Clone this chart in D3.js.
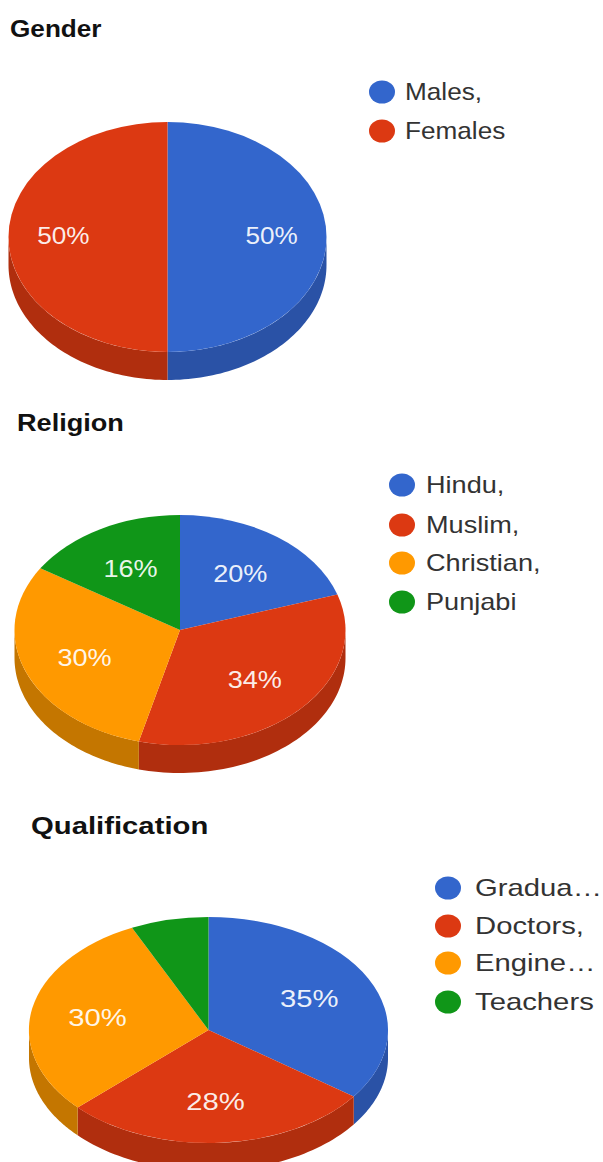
<!DOCTYPE html>
<html>
<head>
<meta charset="utf-8">
<script src="https://cdn.jsdelivr.net/npm/d3@7"></script>
<style>
  html, body { margin: 0; padding: 0; background: #fff; overflow: hidden; }
  svg { display: block; }
  text { font-family: "Liberation Sans", Arial, sans-serif; }
</style>
</head>
<body>
<svg id="chart" width="603" height="1162"></svg>
<script>
// Survey breakdowns
const genderLabels = ["Males,", "Females"];
const genderValues = [50, 50];

const religionLabels = ["Hindu,", "Muslim,", "Christian,", "Punjabi"];
const religionValues = [20, 34, 30, 16];

const qualificationLabels = ["Gradua…", "Doctors,", "Engine…", "Teachers"];
const qualificationValues = [35, 28, 30, 7];

const sliceColors = ["#3366cc", "#dc3912", "#ff9900", "#109618"];
const wallColors = ["#2a52a6", "#b02e0e", "#c47600", "#0c7212"];

// Layout of each panel, kept apart from the values
const panels = [
  { title: "Gender", labels: genderLabels, values: genderValues,
    titleX: 10, titleY: 37, cx: 167.5, cy: 237, rx: 159, ry: 115,
    stretch: 1.09, labelRadius: 0.655, labelDrop: 7,
    legendDotX: 382, legendTextX: 405, legendY: [92, 131] },
  { title: "Religion", labels: religionLabels, values: religionValues,
    titleX: 17, titleY: 431, cx: 180, cy: 630, rx: 165.5, ry: 115,
    stretch: 1.13, labelRadius: 0.62, labelDrop: 9.5,
    legendDotX: 402, legendTextX: 426, legendY: [485, 525, 563, 602] },
  { title: "Qualification", labels: qualificationLabels, values: qualificationValues,
    titleX: 31, titleY: 834, cx: 208.5, cy: 1030, rx: 179.5, ry: 113,
    stretch: 1.22, labelRadius: 0.63, labelDrop: 9,
    legendDotX: 448, legendTextX: 475, legendY: [888, 926, 963, 1002] }
];

const wallDepth = 28;
const minLabelledShare = 0.1;
const fontSize = 24;

const svg = d3.select("#chart");
const pie = d3.pie().sort(null);
const unitArc = d3.arc().innerRadius(0).outerRadius(1);

panels.forEach(p => {
  const g = svg.append("g");
  const slices = pie(p.values);
  const total = d3.sum(p.values);

  // Text in each panel shares that panel's letter width
  const placeText = (sel, x, y) => sel
    .attr("transform", `translate(${x},${y}) scale(${p.stretch},1)`)
    .attr("font-size", fontSize);

  const onRim = (a, dy) => [p.cx + p.rx * Math.sin(a), p.cy - p.ry * Math.cos(a) + dy];

  // Rim walls: only the part of each slice on the front half of the disc shows
  slices.forEach((s, i) => {
    const from = Math.max(s.startAngle, Math.PI / 2);
    const to = Math.min(s.endAngle, 3 * Math.PI / 2);
    if (to <= from) return;
    const angles = d3.range(0, 61).map(k => from + (to - from) * k / 60);
    const outline = angles.map(a => onRim(a, 0))
      .concat(angles.slice().reverse().map(a => onRim(a, wallDepth)));
    g.append("path")
      .attr("d", d3.line().curve(d3.curveLinearClosed)(outline))
      .attr("fill", wallColors[i]);
  });

  // Top face of the disc
  g.selectAll("path.face").data(slices).join("path")
    .attr("class", "face")
    .attr("transform", `translate(${p.cx},${p.cy}) scale(${p.rx},${p.ry})`)
    .attr("d", unitArc)
    .attr("fill", (d, i) => sliceColors[i]);

  // Percentage labels, skipped on narrow slices
  slices.filter(s => s.value / total >= minLabelledShare).forEach(s => {
    const mid = (s.startAngle + s.endAngle) / 2;
    const x = p.cx + p.rx * p.labelRadius * Math.sin(mid);
    const y = p.cy - p.ry * p.labelRadius * Math.cos(mid) + p.labelDrop;
    g.append("text")
      .call(placeText, x, y)
      .attr("text-anchor", "middle")
      .attr("fill", "#ffffff")
      .attr("fill-opacity", 0.92)
      .text(d3.format(".0f")(s.value / total * 100) + "%");
  });

  // Title
  g.append("text")
    .call(placeText, p.titleX, p.titleY)
    .attr("font-weight", "bold")
    .attr("fill", "#111111")
    .text(p.title);

  // Legend
  p.labels.forEach((label, i) => {
    g.append("ellipse")
      .attr("cx", p.legendDotX).attr("cy", p.legendY[i])
      .attr("rx", 13).attr("ry", 11.5)
      .attr("fill", sliceColors[i]);
    g.append("text")
      .call(placeText, p.legendTextX, p.legendY[i] + 8)
      .attr("fill", "#333333")
      .text(label);
  });
});
</script>
</body>
</html>
